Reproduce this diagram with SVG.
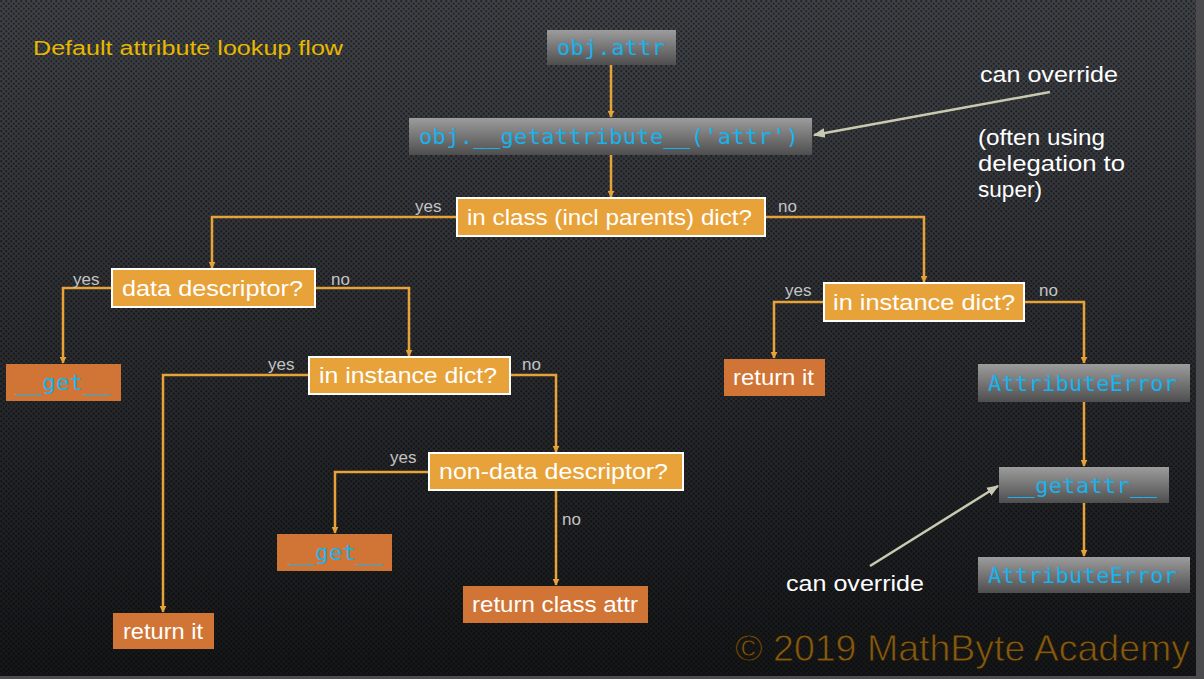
<svg xmlns="http://www.w3.org/2000/svg" width="1204" height="679" viewBox="0 0 1204 679">
<defs>
<linearGradient id="bg" x1="0" y1="0" x2="0" y2="1">
<stop offset="0" stop-color="#3f4247"/>
<stop offset="0.5" stop-color="#2b2d31"/>
<stop offset="1" stop-color="#151618"/>
</linearGradient>
<pattern id="dots" width="5" height="5" patternUnits="userSpaceOnUse">
<circle cx="1.25" cy="1.25" r="1.15" fill="#000" fill-opacity="0.45"/>
<circle cx="3.75" cy="3.75" r="1.15" fill="#000" fill-opacity="0.45"/>
</pattern>
<linearGradient id="gray" x1="0" y1="0" x2="0" y2="1">
<stop offset="0" stop-color="#9c9c9c"/>
<stop offset="1" stop-color="#4e4e4e"/>
</linearGradient>
<marker id="ah" viewBox="0 0 10 10" refX="9" refY="5" markerWidth="7" markerHeight="7" orient="auto" markerUnits="userSpaceOnUse">
<path d="M0,0 L10,5 L0,10 z" fill="#e8a23a"/>
</marker>
<marker id="gh" viewBox="0 0 10 10" refX="9" refY="5" markerWidth="12" markerHeight="12" orient="auto" markerUnits="userSpaceOnUse">
<path d="M0,1 L10,5 L0,9 z" fill="#c9c9b2"/>
</marker>
</defs>
<style>
.dec{fill:#e8a23a;stroke:#ffffff;stroke-width:2}
.res{fill:#d07535}
.gbox{fill:url(#gray)}
.t{font-family:"Liberation Sans","DejaVu Sans",sans-serif;font-size:22px;fill:#ffffff}
.m{font-family:"DejaVu Sans Mono","Liberation Mono",monospace;font-size:22px;fill:#19b2ec}
.lb{font-family:"Liberation Sans","DejaVu Sans",sans-serif;font-size:17px;fill:#c4c4c4}
.note{font-family:"Liberation Sans","DejaVu Sans",sans-serif;font-size:22px;fill:#ffffff}
.c{fill:none;stroke:#e8a23a;stroke-width:2.5;marker-end:url(#ah)}
.g{fill:none;stroke:#c9c9b2;stroke-width:2.5;marker-end:url(#gh)}
</style>
<rect width="1204" height="679" fill="url(#bg)"/>
<rect width="1204" height="679" fill="url(#dots)"/>
<rect x="1196" y="0" width="8" height="679" fill="#4c4c4e"/>
<rect x="0" y="676" width="1204" height="3" fill="#4c4c4e"/>

<text x="33" y="55" font-family="Liberation Sans, DejaVu Sans, sans-serif" font-size="20" fill="#e6b800" textLength="310" lengthAdjust="spacingAndGlyphs">Default attribute lookup flow</text>

<g id="connectors">
<path class="c" d="M611,65 V117"/>
<path class="c" d="M611,155 V197"/>
<path class="c" d="M457,217 H212 V268"/>
<path class="c" d="M765,217 H924 V282"/>
<path class="c" d="M112,288 H63 V363"/>
<path class="c" d="M315,288 H409 V356"/>
<path class="c" d="M309,375 H163 V612"/>
<path class="c" d="M510,375 H556 V452"/>
<path class="c" d="M429,472 H335 V533"/>
<path class="c" d="M556,490 V585"/>
<path class="c" d="M824,302 H774 V358"/>
<path class="c" d="M1024,302 H1084 V363"/>
<path class="c" d="M1084,402 V466"/>
<path class="c" d="M1084,503 V556"/>
<path class="g" d="M1050,92 L814,135"/>
<path class="g" d="M870,566 L998,486"/>
</g>

<g id="labels">
<text class="lb" x="415" y="212">yes</text>
<text class="lb" x="778" y="212">no</text>
<text class="lb" x="73" y="285">yes</text>
<text class="lb" x="331" y="285">no</text>
<text class="lb" x="268" y="370">yes</text>
<text class="lb" x="522" y="370">no</text>
<text class="lb" x="390" y="463">yes</text>
<text class="lb" x="562" y="525">no</text>
<text class="lb" x="785" y="296">yes</text>
<text class="lb" x="1039" y="296">no</text>
</g>

<g id="n-objattr">
<rect class="gbox" x="547" y="30" width="129" height="35"/>
<text class="m" x="557" y="55" textLength="108">obj.attr</text>
</g>
<g id="n-getattribute">
<rect class="gbox" x="409" y="118" width="403" height="37"/>
<text class="m" x="419" y="144" textLength="380">obj.__getattribute__('attr')</text>
</g>
<g id="n-inclass">
<rect class="dec" x="457" y="198" width="308" height="38"/>
<text class="t" x="467" y="225" textLength="285" lengthAdjust="spacingAndGlyphs">in class (incl parents) dict?</text>
</g>
<g id="n-datadesc">
<rect class="dec" x="112" y="269" width="203" height="38"/>
<text class="t" x="122" y="296" textLength="181" lengthAdjust="spacingAndGlyphs">data descriptor?</text>
</g>
<g id="n-get1">
<rect class="res" x="6" y="364" width="115" height="37"/>
<text class="m" x="15" y="390" textLength="95">__get__</text>
</g>
<g id="n-instdict1">
<rect class="dec" x="309" y="357" width="201" height="37"/>
<text class="t" x="319" y="383" textLength="178" lengthAdjust="spacingAndGlyphs">in instance dict?</text>
</g>
<g id="n-returnit1">
<rect class="res" x="113" y="613" width="101" height="36"/>
<text class="t" x="123" y="639" textLength="80" lengthAdjust="spacingAndGlyphs">return it</text>
</g>
<g id="n-nondata">
<rect class="dec" x="429" y="453" width="254" height="37"/>
<text class="t" x="439" y="479" textLength="229" lengthAdjust="spacingAndGlyphs">non-data descriptor?</text>
</g>
<g id="n-get2">
<rect class="res" x="277" y="534" width="115" height="37"/>
<text class="m" x="288" y="560" textLength="95">__get__</text>
</g>
<g id="n-classattr">
<rect class="res" x="463" y="586" width="185" height="37"/>
<text class="t" x="472" y="612" textLength="166" lengthAdjust="spacingAndGlyphs">return class attr</text>
</g>
<g id="n-instdict2">
<rect class="dec" x="824" y="283" width="200" height="38"/>
<text class="t" x="833" y="310" textLength="182" lengthAdjust="spacingAndGlyphs">in instance dict?</text>
</g>
<g id="n-returnit2">
<rect class="res" x="724" y="359" width="101" height="37"/>
<text class="t" x="733" y="385" textLength="81" lengthAdjust="spacingAndGlyphs">return it</text>
</g>
<g id="n-attrerr1">
<rect class="gbox" x="978" y="364" width="212" height="38"/>
<text class="m" x="988" y="391" textLength="189">AttributeError</text>
</g>
<g id="n-getattr">
<rect class="gbox" x="999" y="467" width="170" height="36"/>
<text class="m" x="1008" y="493" textLength="149">__getattr__</text>
</g>
<g id="n-attrerr2">
<rect class="gbox" x="978" y="557" width="212" height="36"/>
<text class="m" x="988" y="583" textLength="189">AttributeError</text>
</g>

<g id="notes">
<text class="note" x="980" y="82" textLength="138" lengthAdjust="spacingAndGlyphs">can override</text>
<text class="note" x="978" y="145" textLength="127" lengthAdjust="spacingAndGlyphs">(often using</text>
<text class="note" x="978" y="171" textLength="147" lengthAdjust="spacingAndGlyphs">delegation to</text>
<text class="note" x="978" y="197" textLength="64" lengthAdjust="spacingAndGlyphs">super)</text>
<text class="note" x="786" y="591" textLength="138" lengthAdjust="spacingAndGlyphs">can override</text>
</g>

<text x="735" y="661" font-family="Liberation Sans, Arial, sans-serif" font-size="37" fill="#845a12" stroke="#1a1206" stroke-width="0.8" textLength="455" lengthAdjust="spacingAndGlyphs">© 2019 MathByte Academy</text>
</svg>
